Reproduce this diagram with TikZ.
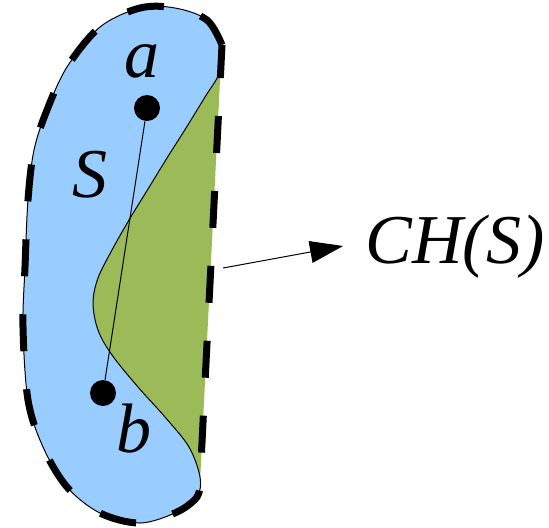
\documentclass[tikz,border=0pt]{standalone}
\usepackage{fontspec}
\setmainfont{Liberation Serif}
\usetikzlibrary{arrows.meta}
\definecolor{sblue}{HTML}{99CCFF}
\definecolor{hgreen}{HTML}{9BBB59}
\tikzset{
  lbl/.style={anchor=base, inner sep=0pt, font=\fontsize{35}{40}\selectfont\itshape},
  dot/.style={circle, fill=black, minimum size=13pt, inner sep=0pt},
  hull/.style={line width=3.5pt, dash pattern=on 18.5pt off 19pt},
  thin/.style={line width=0.5pt},
}
\begin{document}
\begin{tikzpicture}[x=0.5pt,y=-0.5pt]
\useasboundingbox (0,0) rectangle (549,527);
% green region (part of hull outside S)
\fill[hgreen] (222,40) -- (200,482) -- (150,420) -- (80,300) -- (120,150) -- (200,60) -- cycle;
% the set S
\filldraw[fill=sblue, draw=black, thin] plot[smooth cycle, tension=0.55] coordinates {
  (222,48) (220,72) (205,97) (186,128) (167,158) (148,189) (129,220) (112,250)
  (98,278) (93,303) (98,330) (112,355) (138,387) (165,417) (189,447) (200,477)
  (197,497) (177,512) (140,523) (100,513) (67,487) (43,447) (28,400)
  (23,327) (25,267) (28,200) (34,150) (47,110) (67,67) (100,27) (140,8)
  (175,8) (207,20)};
% convex hull (dashed)
\draw[hull] plot[smooth, tension=0.55] coordinates {
  (222,45) (207,20) (175,8) (140,8) (100,27) (67,67) (47,110) (34,150)
  (28,200) (25,267) (23,327) (28,400) (43,447) (67,487) (100,513)
  (140,523) (177,512) (197,497) (200,482)} -- cycle;
% points and segment
\node[dot] (pa) at (147,108) {};
\node[dot] (pb) at (103,393) {};
\draw[thin] (pa) -- (pb);
% labels
\node[lbl] (la) at (142,77) {a};
\node[lbl] (lb) at (134,452) {b};
\node[lbl] (ls) at (90,197) {S};
\node[lbl] (ch) at (455,263) {CH(S)};
% arrow
\coordinate (arrowstart) at (223,268);
\coordinate (arrowtip) at (343,246);
\draw[thin, -{Triangle[length=16.5pt, width=11pt]}] (arrowstart) -- (arrowtip);
\end{tikzpicture}
\end{document}
